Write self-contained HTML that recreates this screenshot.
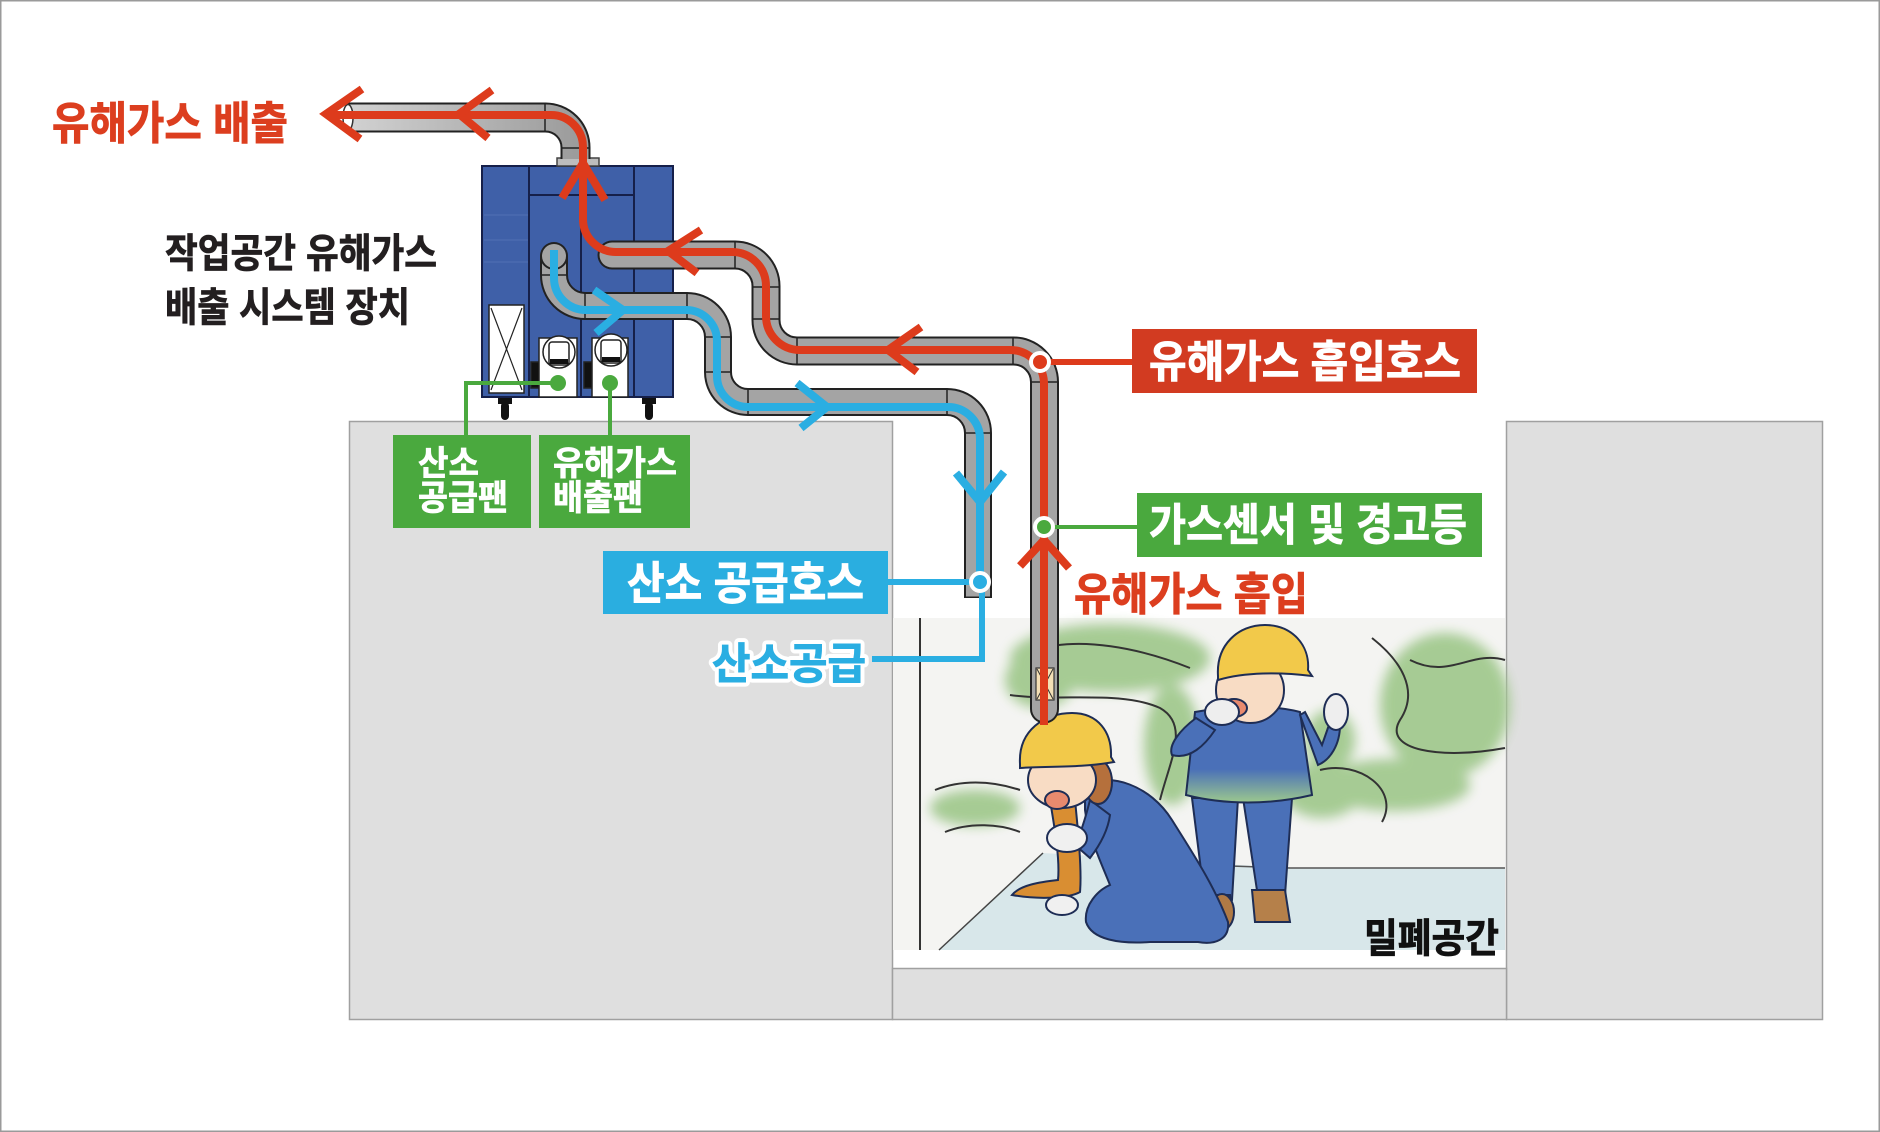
<!DOCTYPE html>
<html><head><meta charset="utf-8">
<style>
html,body{margin:0;padding:0;background:#fff;}
svg{display:block;}
text{font-family:"Liberation Sans","Noto Sans CJK KR",sans-serif;font-weight:bold;}
</style></head><body>
<svg width="1880" height="1132" viewBox="0 0 1880 1132" xmlns="http://www.w3.org/2000/svg">
<defs>
<filter id="blur" x="-30%" y="-30%" width="160%" height="160%"><feGaussianBlur stdDeviation="6"/></filter>
<linearGradient id="tg" x1="0" y1="0" x2="0" y2="1"><stop offset="0" stop-color="#4a70b8"/><stop offset="0.65" stop-color="#4a70b8"/><stop offset="1" stop-color="#9cc88e"/></linearGradient>
<linearGradient id="exg" x1="0" y1="0" x2="1" y2="0"><stop offset="0" stop-color="#d2d2d2"/><stop offset="1" stop-color="#9c9c9c"/></linearGradient>
</defs>
<rect x="0" y="0" width="1880" height="1132" fill="#fff"/>
<rect x="0.75" y="0.75" width="1878.5" height="1130.5" fill="none" stroke="#9a9a9a" stroke-width="1.5"/>

<!-- ground blocks -->
<rect x="349.5" y="421.5" width="543" height="598" fill="#dfdfdf" stroke="#a0a0a0" stroke-width="1.5"/>
<rect x="1506.5" y="421.5" width="316" height="598" fill="#dfdfdf" stroke="#a0a0a0" stroke-width="1.5"/>
<rect x="892.5" y="968.5" width="614" height="51" fill="#dfdfdf" stroke="#a0a0a0" stroke-width="1.5"/>

<!-- illustration -->
<rect x="893" y="618" width="612" height="332" fill="#f4f4f2"/>
<polygon points="939,950 1043,853 1290,868 1505,868 1505,950" fill="#d8e7ea"/>
<polyline points="939,950 1043,853" fill="none" stroke="#444" stroke-width="1.5"/>
<polyline points="1230,866 1290,868 1505,868" fill="none" stroke="#555" stroke-width="1.5"/>
<line x1="920" y1="618" x2="920" y2="950" stroke="#333" stroke-width="2"/>
<g fill="#a2c98f" opacity="0.95" filter="url(#blur)">
<ellipse cx="1110" cy="658" rx="100" ry="34"/>
<ellipse cx="1040" cy="680" rx="35" ry="28"/>
<ellipse cx="1172" cy="745" rx="28" ry="60"/>
<ellipse cx="1445" cy="705" rx="65" ry="72"/>
<ellipse cx="1395" cy="785" rx="75" ry="26"/>
<ellipse cx="975" cy="808" rx="45" ry="18"/>
<ellipse cx="1322" cy="790" rx="40" ry="28"/>
<ellipse cx="1330" cy="740" rx="25" ry="30"/>
</g>
<g fill="none" stroke="#333" stroke-width="2">
<path d="M1035,650 C1080,636 1140,648 1190,668"/>
<path d="M1010,695 C1060,702 1120,690 1160,708 C1190,725 1170,760 1160,800"/>
<path d="M1372,638 C1400,660 1420,690 1400,720 C1382,750 1440,760 1505,748"/>
<path d="M1320,770 C1360,760 1400,790 1382,822"/>
<path d="M935,790 C960,780 990,780 1020,790"/>
<path d="M945,832 C970,822 1000,824 1020,832"/>
<path d="M1410,660 C1450,680 1470,650 1505,660"/>
</g>
<!-- standing worker -->
<g stroke="#1e2d55" stroke-width="2">
<path d="M1192,798 L1238,798 L1232,900 L1205,902 Z" fill="#4a70b8"/>
<path d="M1243,798 L1292,798 L1285,895 L1258,897 Z" fill="#4a70b8"/>
<path d="M1252,890 L1285,890 L1290,922 L1255,922 Z" fill="#b5804a"/>
<path d="M1205,895 L1230,895 L1232,915 L1208,915 Z" fill="#b5804a"/>
<path d="M1195,712 C1230,705 1275,705 1300,712 L1312,795 C1270,805 1225,805 1186,795 Z" fill="url(#tg)"/>
<path d="M1196,718 C1180,730 1168,745 1172,755 C1190,760 1205,745 1215,730 Z" fill="#4a70b8"/>
<path d="M1300,715 L1318,765 C1330,760 1340,745 1340,725 L1330,722 L1322,745 L1305,712 Z" fill="#4a70b8"/>
<ellipse cx="1336" cy="712" rx="12" ry="18" fill="#eeeeee"/>
<ellipse cx="1250" cy="690" rx="34" ry="33" fill="#f8dcc4"/>
<ellipse cx="1234" cy="708" rx="13" ry="9" fill="#e88a6e"/>
<ellipse cx="1222" cy="712" rx="17" ry="13" fill="#eeeeee"/>
<path d="M1218,676 C1216,645 1238,625 1265,625 C1292,625 1310,645 1308,670 L1312,676 C1280,672 1245,672 1218,680 Z" fill="#f2c94a"/>
</g>
<!-- kneeling worker -->
<g stroke="#1e2d55" stroke-width="2">
<ellipse cx="1222" cy="912" rx="12" ry="18" fill="#b07a45"/>
<path d="M1085,785 C1110,772 1150,785 1172,820 C1192,852 1214,885 1228,922 C1230,940 1214,945 1198,942 L1150,942 C1120,944 1092,940 1086,922 C1084,905 1098,890 1110,885 C1100,860 1088,835 1085,810 Z" fill="#4a70b8"/>
<path d="M1050,800 C1055,830 1060,860 1058,880 C1040,882 1020,885 1012,895 C1040,900 1070,898 1080,892 C1082,870 1078,830 1075,800 Z" fill="#d98e32"/>
<path d="M1090,800 C1085,820 1080,835 1075,845 L1090,858 C1100,845 1108,830 1110,815 Z" fill="#4a70b8"/>
<ellipse cx="1067" cy="838" rx="20" ry="14" fill="#f0f0f0"/>
<ellipse cx="1062" cy="905" rx="16" ry="10" fill="#f0f0f0"/>
<ellipse cx="1098" cy="782" rx="14" ry="22" fill="#b5703c"/>
<ellipse cx="1062" cy="780" rx="34" ry="28" fill="#f8dcc4"/>
<ellipse cx="1057" cy="800" rx="12" ry="9" fill="#e88a6e"/>
<path d="M1020,764 C1018,730 1045,713 1072,713 C1098,713 1112,732 1111,757 L1114,762 C1080,768 1050,766 1020,768 Z" fill="#f2c94a"/>
</g>
<text x="1364" y="952" font-size="40" fill="#111" stroke="#111" stroke-width="0.8" textLength="135" lengthAdjust="spacingAndGlyphs">밀폐공간</text>

<!-- device box -->
<rect x="482" y="166" width="191" height="231" fill="#3f60a8" stroke="#16204a" stroke-width="2"/>
<g stroke="#16204a" stroke-width="2">
<line x1="529" y1="166" x2="529" y2="397"/>
<line x1="634" y1="166" x2="634" y2="397"/>
<line x1="529" y1="195" x2="634" y2="195"/>
<line x1="581" y1="195" x2="581" y2="397"/>
</g>
<g stroke="#5a78b8" stroke-width="1" opacity="0.7">
<line x1="484" y1="215" x2="528" y2="215"/><line x1="484" y1="240" x2="528" y2="240"/><line x1="484" y1="262" x2="528" y2="262"/>
</g>
<rect x="489" y="305" width="35" height="88" fill="#fff" stroke="#222" stroke-width="1.5"/>
<path d="M491,308 L522,390 M522,308 L491,390" stroke="#222" stroke-width="1.2" fill="none"/>
<!-- fans -->
<g stroke="#222" stroke-width="1.5">
<rect x="531" y="362" width="9" height="26" fill="#111"/>
<rect x="539" y="338" width="38" height="59" fill="#fff"/>
<circle cx="559" cy="352" r="16" fill="#fff"/>
<rect x="549" y="342" width="20" height="23" rx="3" fill="#fff"/>
<rect x="550" y="359" width="18" height="5" fill="#111" stroke="none"/>
<rect x="584" y="362" width="9" height="26" fill="#111"/>
<rect x="592" y="338" width="36" height="59" fill="#fff"/>
<circle cx="611" cy="350" r="16" fill="#fff"/>
<rect x="601" y="340" width="20" height="23" rx="3" fill="#fff"/>
<rect x="602" y="357" width="18" height="5" fill="#111" stroke="none"/>
</g>
<!-- casters -->
<g fill="#111">
<rect x="498" y="398" width="14" height="6"/><rect x="501" y="402" width="8" height="18" rx="4"/>
<rect x="642" y="398" width="14" height="6"/><rect x="645" y="402" width="8" height="18" rx="4"/>
</g>
<!-- flange -->
<rect x="557" y="158" width="42" height="8" fill="#bdbdbd" stroke="#444" stroke-width="1.5"/>

<!-- pipes -->
<g fill="none" stroke-linejoin="round">
<path d="M347,117.5 H545 A30 30 0 0 1 575.5 148 V159" stroke="#222" stroke-width="30"/>
<path d="M347,117.5 H545 A30 30 0 0 1 575.5 148 V159" stroke="url(#exg)" stroke-width="26"/>
<path d="M612,255 H735 A31 31 0 0 1 766 286 V320 A31 31 0 0 0 797 351 H1013 A31 31 0 0 1 1044.5 382 V709" stroke="#222" stroke-width="29" stroke-linecap="round"/>
<path d="M612,255 H735 A31 31 0 0 1 766 286 V320 A31 31 0 0 0 797 351 H1013 A31 31 0 0 1 1044.5 382 V709" stroke="#a4a4a4" stroke-width="25" stroke-linecap="round"/>
<path d="M554,256 V275 A31 31 0 0 0 585 306 H687 A31 31 0 0 1 718 337 V372 A30 30 0 0 0 748 402 H947 A31 31 0 0 1 978 433 V598" stroke="#222" stroke-width="28"/>
<path d="M554,256 V275 A31 31 0 0 0 585 306 H687 A31 31 0 0 1 718 337 V372 A30 30 0 0 0 748 402 H947 A31 31 0 0 1 978 433 V596.5" stroke="#a4a4a4" stroke-width="24"/>
<circle cx="554" cy="256" r="14" fill="#222"/><circle cx="554" cy="256" r="12" fill="#a4a4a4"/>
</g>
<ellipse cx="348" cy="117.5" rx="5" ry="13" fill="#fff" stroke="#333" stroke-width="1.5"/>
<!-- joints -->
<g stroke="#222" stroke-width="1.5">
<line x1="545" y1="103" x2="545" y2="132"/><line x1="561" y1="148" x2="590" y2="148"/>
<line x1="735" y1="241" x2="735" y2="269"/><line x1="752" y1="287" x2="780" y2="287"/><line x1="752" y1="319" x2="780" y2="319"/>
<line x1="797" y1="337" x2="797" y2="365"/><line x1="1013" y1="337" x2="1013" y2="365"/><line x1="1031" y1="382" x2="1058" y2="382"/>
<line x1="541" y1="275" x2="567" y2="275"/><line x1="585" y1="293" x2="585" y2="319"/><line x1="687" y1="293" x2="687" y2="319"/>
<line x1="705" y1="337" x2="731" y2="337"/><line x1="705" y1="372" x2="731" y2="372"/><line x1="748" y1="389" x2="748" y2="415"/>
<line x1="947" y1="389" x2="947" y2="415"/><line x1="965" y1="433" x2="991" y2="433"/>
</g>
<!-- filter box on hose -->
<rect x="1036" y="668" width="18" height="32" fill="#f3dfb5" stroke="#333" stroke-width="1.2"/>
<path d="M1037,669 L1053,699 M1053,669 L1037,699" stroke="#333" stroke-width="1" fill="none"/>

<!-- flow lines -->
<g fill="none" stroke-linejoin="miter">
<path d="M1044,725 V384 A34 34 0 0 0 1010 350 H800 A34 34 0 0 1 766 316 V286 A34 34 0 0 0 732 252 H616 A33 33 0 0 1 583 219 V147 A32 32 0 0 0 551 115 H328" stroke="#dd3b1c" stroke-width="8"/>
<path d="M554,250 V278 A32 32 0 0 0 586 310 H686 A31 31 0 0 1 717 341 V376 A31 31 0 0 0 748 407 H948 A32 32 0 0 1 980 439 V582" stroke="#2aaee2" stroke-width="8"/>
<g stroke="#dd3b1c" stroke-width="8">
<polyline points="362,89 326,114 360,139"/>
<polyline points="492,90 459,114 488,138"/>
<polyline points="562,198 583,163 605,200"/>
<polyline points="701,230 668,251 697,273"/>
<polyline points="921,327 888,350 917,372"/>
<polyline points="1020,566 1044,540 1069,568"/>
</g>
<g stroke="#2aaee2" stroke-width="8">
<polyline points="594,290 623,310 596,333"/>
<polyline points="797,383 827,407 801,428"/>
<polyline points="956,473 980,502 1004,472"/>
</g>
</g>

<!-- leader lines -->
<g fill="none">
<path d="M1040,362 H1134" stroke="#dd3b1c" stroke-width="6"/>
<path d="M1044,527 H1139" stroke="#4aa93e" stroke-width="4"/>
<path d="M886,582 H980" stroke="#2aaee2" stroke-width="6"/>
<path d="M982,582 V659 H872" stroke="#2aaee2" stroke-width="6"/>
<path d="M558,383 H466 V437" stroke="#4aa93e" stroke-width="4"/>
<path d="M610,383 V437" stroke="#4aa93e" stroke-width="4"/>
</g>
<circle cx="558" cy="383" r="8" fill="#4aa93e"/>
<circle cx="610" cy="383" r="8" fill="#4aa93e"/>
<circle cx="1040" cy="362" r="9" fill="#dd3b1c" stroke="#fff" stroke-width="4"/>
<circle cx="1044" cy="527" r="9" fill="#4aa93e" stroke="#fff" stroke-width="4"/>
<circle cx="980" cy="582" r="9" fill="#2aaee2" stroke="#fff" stroke-width="4"/>

<!-- labels -->
<rect x="1132" y="329" width="345" height="64" fill="#d23b21"/>
<text x="1149" y="377" font-size="44" fill="#fff" stroke="#fff" stroke-width="0.9" textLength="312" lengthAdjust="spacingAndGlyphs">유해가스 흡입호스</text>
<rect x="1137" y="493" width="345" height="64" fill="#4aa93e"/>
<text x="1149" y="540" font-size="44" fill="#fff" stroke="#fff" stroke-width="0.9" textLength="318" lengthAdjust="spacingAndGlyphs">가스센서 및 경고등</text>
<text x="1074" y="610" font-size="45" fill="#dc3e1f" stroke="#dc3e1f" stroke-width="0.9" textLength="234" lengthAdjust="spacingAndGlyphs">유해가스 흡입</text>
<rect x="603" y="551" width="285" height="63" fill="#2aaee0"/>
<text x="627" y="599" font-size="45" fill="#fff" stroke="#fff" stroke-width="0.9" textLength="237" lengthAdjust="spacingAndGlyphs">산소 공급호스</text>
<rect x="393" y="435" width="138" height="93" fill="#4aa93e"/>
<text x="418" y="475" font-size="34" fill="#fff" stroke="#fff" stroke-width="0.7" textLength="61" lengthAdjust="spacingAndGlyphs">산소</text>
<text x="418" y="510" font-size="35" fill="#fff" stroke="#fff" stroke-width="0.7" textLength="90" lengthAdjust="spacingAndGlyphs">공급팬</text>
<rect x="539" y="435" width="151" height="93" fill="#4aa93e"/>
<text x="553" y="475" font-size="34" fill="#fff" stroke="#fff" stroke-width="0.7" textLength="124" lengthAdjust="spacingAndGlyphs">유해가스</text>
<text x="553" y="510" font-size="35" fill="#fff" stroke="#fff" stroke-width="0.7" textLength="90" lengthAdjust="spacingAndGlyphs">배출팬</text>
<text x="712" y="679" font-size="43" fill="#2aaee2" stroke="#fff" stroke-width="9" stroke-linejoin="round" paint-order="stroke" textLength="154" lengthAdjust="spacingAndGlyphs">산소공급</text>
<text x="712" y="679" font-size="43" fill="#2aaee2" stroke="#2aaee2" stroke-width="0.9" textLength="154" lengthAdjust="spacingAndGlyphs">산소공급</text>
<text x="52" y="139" font-size="45" fill="#dc3e1f" stroke="#dc3e1f" stroke-width="0.9" textLength="236" lengthAdjust="spacingAndGlyphs">유해가스 배출</text>
<text x="165" y="267" font-size="40" fill="#231f20" stroke="#231f20" stroke-width="0.8" textLength="272" lengthAdjust="spacingAndGlyphs">작업공간 유해가스</text>
<text x="165" y="321" font-size="40" fill="#231f20" stroke="#231f20" stroke-width="0.8" textLength="245" lengthAdjust="spacingAndGlyphs">배출 시스템 장치</text>
</svg>
</body></html>
